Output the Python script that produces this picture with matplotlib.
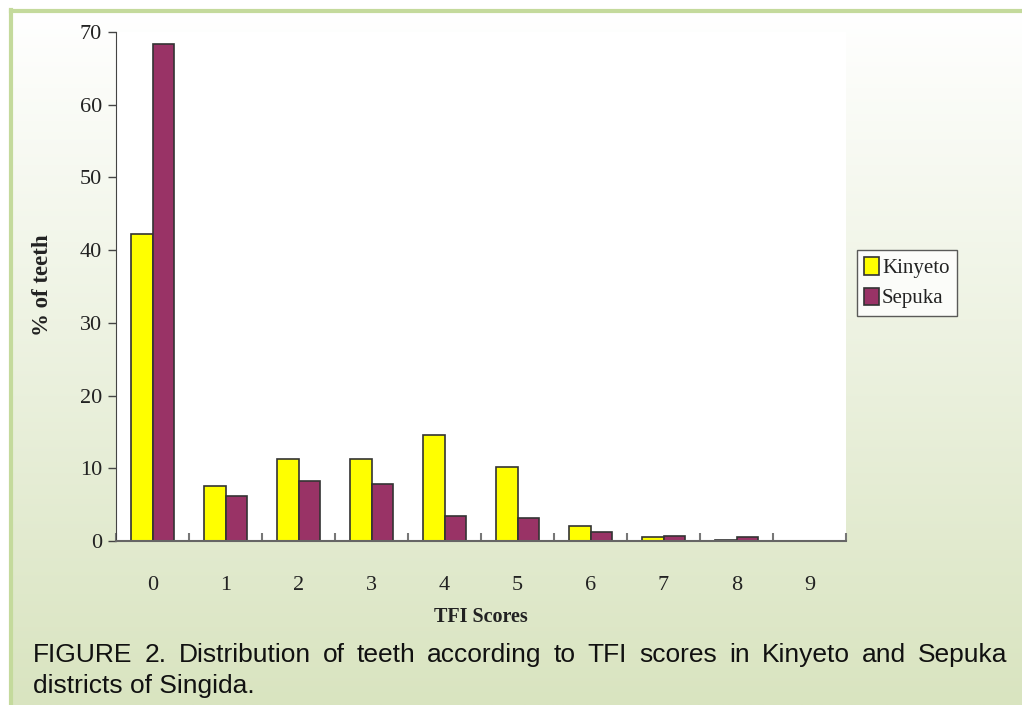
import numpy as np
import matplotlib
matplotlib.use('Agg')
import matplotlib.pyplot as plt

scores = ['0', '1', '2', '3', '4', '5', '6', '7', '8', '9']
kinyeto = [42.2, 7.6, 11.3, 11.3, 14.6, 10.2, 2.0, 0.5, 0.2, 0.0]
sepuka = [68.3, 6.2, 8.2, 7.9, 3.4, 3.2, 1.2, 0.65, 0.5, 0.0]
caption_1 = 'FIGURE 2. Distribution of teeth according to TFI scores in Kinyeto and Sepuka'
caption_2 = 'districts of Singida.'

W, H = 1022, 705
fig = plt.figure(figsize=(W / 100, H / 100), dpi=100)

# gradient panel, framed by a green line on the top and left only
bg = fig.add_axes([11 / W, 0, 1 - 11 / W, 1 - 10 / H], zorder=-10)
top = np.array([1.0, 1.0, 1.0])
bot = np.array([0xd9, 0xe4, 0xc0]) / 255
t = np.linspace(0, 1, 256)[:, None, None]
grad = top * (1 - t) + bot * t
grad = np.repeat(grad, 2, axis=1)
bg.imshow(grad, aspect='auto', extent=[0, 1, 0, 1])
bg.set_xlim(0, 1)
bg.set_ylim(0, 1)
bg.axis('off')
fig.add_artist(plt.Line2D([11 / W, 11 / W], [0, 1 - 10 / H],
                          color='#c4da9c', linewidth=3))
fig.add_artist(plt.Line2D([11 / W, 1], [1 - 11 / H, 1 - 11 / H],
                          color='#c4da9c', linewidth=3))

ax = fig.add_axes([116 / W, 1 - 541 / H, (846 - 116) / W, (541 - 32) / H])
ax.set_facecolor('white')

x = np.arange(len(scores))
bw = 0.29
ax.bar(x - bw / 2, kinyeto, bw, color='#ffff00', edgecolor='#333333',
       linewidth=1.2, label='Kinyeto')
ax.bar(x + bw / 2, sepuka, bw, color='#993366', edgecolor='#333333',
       linewidth=1.2, label='Sepuka')

ax.set_xlim(-0.5, len(scores) - 0.5)
ax.set_ylim(0, 70)
ax.set_yticks(range(0, 71, 10))

serif = 'Liberation Serif'
ax.set_xticks(np.arange(-0.5, len(scores)), [''] * (len(scores) + 1))
ax.set_xticks(x, scores, minor=True)
ax.tick_params(axis='x', which='major', direction='in', length=6,
               color='#777777', width=1.5)
ax.tick_params(axis='x', which='minor', length=0, pad=25, labelsize=16)
ax.tick_params(axis='y', direction='out', length=6, color='#444444',
               width=1, labelsize=16, pad=4)
for lab in ax.get_xticklabels(minor=True) + ax.get_yticklabels():
    lab.set_fontfamily(serif)
    lab.set_color('#222222')

for s in ['top', 'right']:
    ax.spines[s].set_visible(False)
ax.spines['left'].set_color('#444444')
ax.spines['bottom'].set_color('#666666')
ax.spines['bottom'].set_linewidth(1.5)

fig.text(42 / W, 1 - 285 / H, '% of teeth', rotation=90, ha='center',
         va='center', fontsize=16.5, fontweight='bold', family=serif,
         color='#222222')
fig.text(481 / W, 1 - 617 / H, 'TFI Scores', ha='center', va='center',
         fontsize=14.5, fontweight='bold', family=serif, color='#222222')

leg = ax.legend(loc='upper left', bbox_to_anchor=(857 / W, 1 - 250 / H),
                bbox_transform=fig.transFigure, borderaxespad=0,
                prop={'family': serif, 'size': 15}, frameon=True,
                fancybox=False, handlelength=0.7, handleheight=0.9,
                handletextpad=0.15, borderpad=0.35, labelspacing=0.45)
leg.get_frame().set_edgecolor('#333333')
leg.get_frame().set_linewidth(1)
for txt in leg.get_texts():
    txt.set_color('#222222')

# justified caption
fig.canvas.draw()
renderer = fig.canvas.get_renderer()
words = caption_1.split(' ')
cap_kw = dict(fontsize=19, family='Liberation Sans', color='#111111',
              va='baseline', ha='left')
objs = [fig.text(0, 1 - 662 / H, w, **cap_kw) for w in words]
widths = [o.get_window_extent(renderer).width for o in objs]
x0, x1 = 33, 1007
gap = (x1 - x0 - sum(widths)) / (len(words) - 1)
pos = x0
for o, w in zip(objs, widths):
    o.set_x(pos / W)
    pos += w + gap
fig.text(x0 / W, 1 - 693 / H, caption_2, **cap_kw)

fig.savefig('out.png', dpi=100)
